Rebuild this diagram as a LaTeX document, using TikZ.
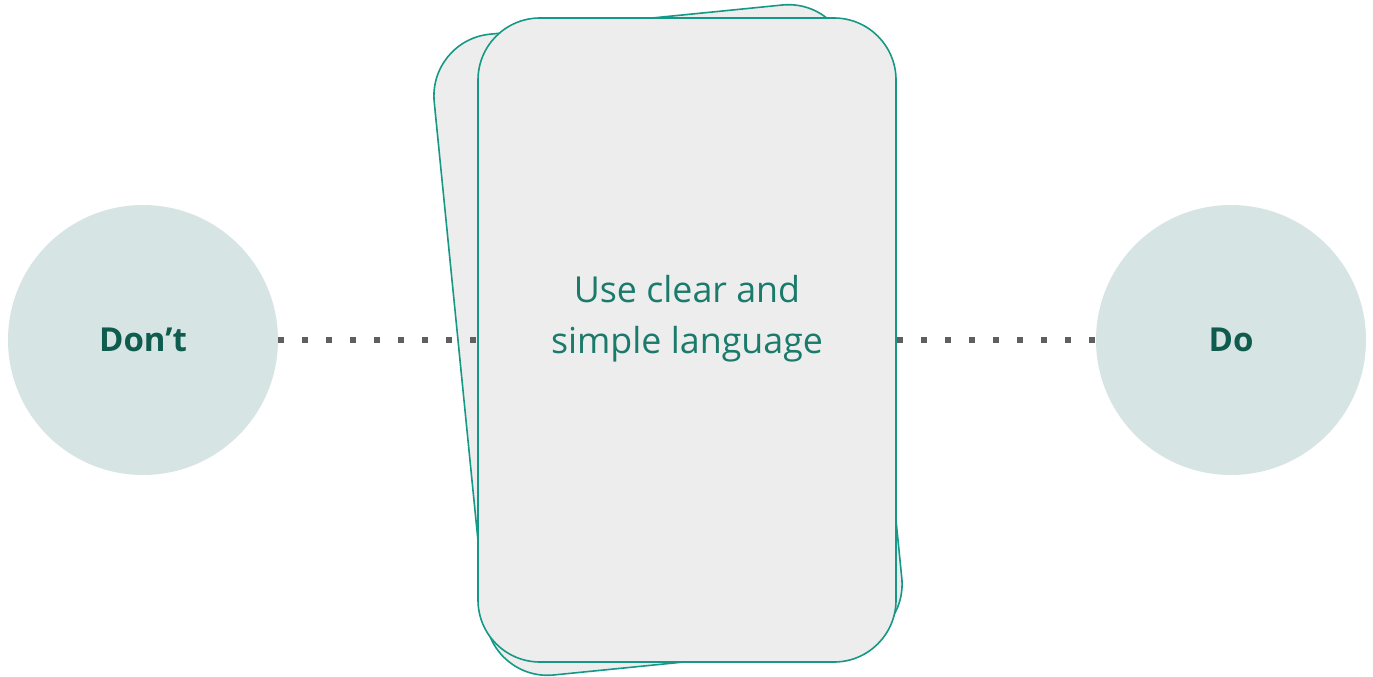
\documentclass[tikz,border=0pt]{standalone}
\usepackage{fontspec}
\setmainfont{Open Sans}
\definecolor{tealline}{HTML}{159885}
\definecolor{cardfill}{HTML}{EDEDED}
\definecolor{circfill}{HTML}{D6E5E4}
\definecolor{darkteal}{HTML}{0F5B4E}
\definecolor{cardtext}{HTML}{1A7A6B}
\definecolor{dotgrey}{HTML}{5F5F5F}
\tikzset{
  endpoint/.style={circle, fill=circfill, minimum size=270pt, inner sep=0pt,
    text=darkteal, font=\fontsize{33}{40}\selectfont\bfseries},
  cardbox/.style={rectangle, draw=tealline, line width=1.6pt, fill=cardfill,
    rounded corners=62pt, minimum width=418pt, minimum height=644pt, inner sep=0pt},
  dotline/.style={draw=dotgrey, line width=6pt, dash pattern=on 6pt off 18pt}
}
\begin{document}
\begin{tikzpicture}[x=1pt, y=-1pt]
  \useasboundingbox (0,0) rectangle (1373,677);
  % the two ends of the scale
  \node[endpoint] (dont) at (143,340) {Don’t};
  \node[endpoint] (do) at (1231,340) {Do};
  % tilted card lying underneath
  \node[cardbox, rotate=5.7] (back) at (668,340) {};
  % front card outline, placed first so the dotted links can end at it
  \path (687,340) node[cardbox, draw=none, fill=none] (frame) {};
  \draw[dotline] (dont.east) -- (frame.west);
  \draw[dotline] (frame.east) -- (do.west);
  % front card and its text
  \node[cardbox] (card) at (687,340) {};
  \node[text=cardtext, align=center, inner sep=0pt,
        font=\fontsize{35.8}{51}\selectfont] (cardlabel) at (687,319)
       {Use clear and\\simple language};
\end{tikzpicture}
\end{document}
